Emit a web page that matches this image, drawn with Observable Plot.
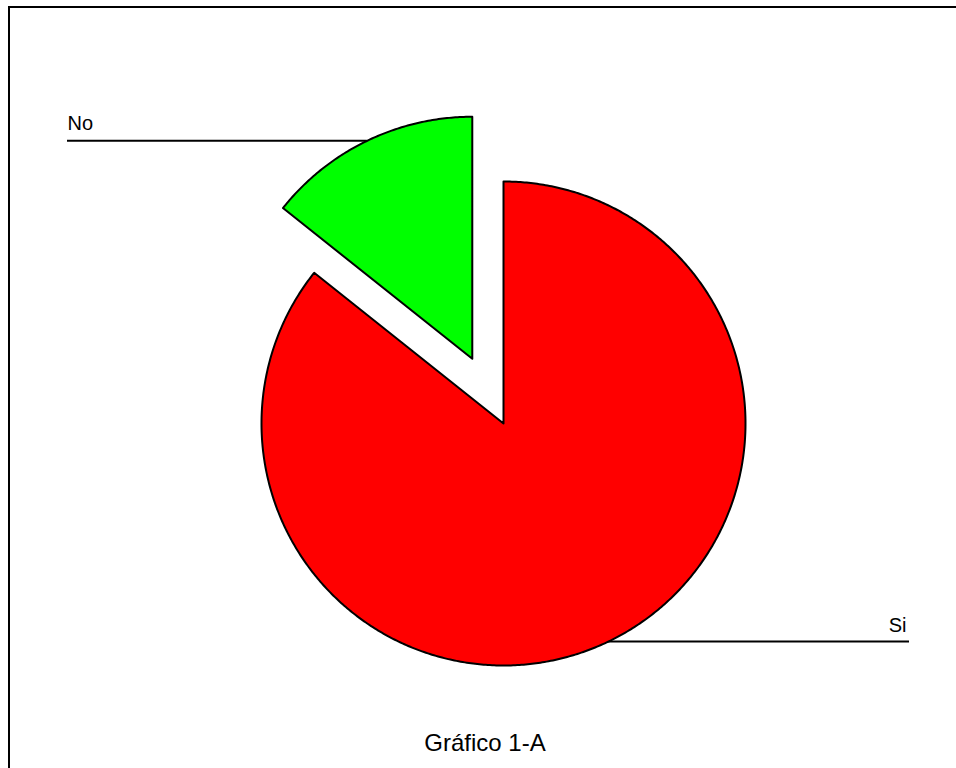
<!DOCTYPE html>
<html><head><meta charset="utf-8">
<script src="https://cdn.jsdelivr.net/npm/d3@7"></script>
<script src="https://cdn.jsdelivr.net/npm/@observablehq/plot@0.6"></script>
<style>
body{margin:0;background:#fff;font-family:"Liberation Sans",Arial,sans-serif;overflow:hidden;}
#frame{position:absolute;left:8px;top:6px;width:1200px;height:1000px;border-top:2px solid #000;border-left:2px solid #000;box-sizing:border-box;}
#chart{position:absolute;left:0;top:0;}
#caption{position:absolute;left:0;top:731px;width:970px;text-align:center;font-size:24px;line-height:24px;color:#000;}
</style></head><body>
<div id="frame"></div><div id="chart"></div><div id="caption"></div>
<script>
// ---- data ----
const categories = ["Si", "No"];
const values = [85.7, 14.3];
const colors = ["#ff0000", "#00ff00"];
const exploded = [false, true];
const captionText = "Gráfico 1-A";

// ---- layout ----
const W = 956, H = 720, CX = 503, CY = 423, R = 242, EXPLODE = 0.297;
const LEFT_END = (67 - CX) / R, RIGHT_END = (909 - CX) / R;

const slices = d3.pie().sort(null).value(d => d.value)(
  categories.map((c, i) => ({category: c, value: values[i], exploded: exploded[i]}))
);

const pts = [], leaders = [], labels = [];
slices.forEach(s => {
  const c = s.data.category;
  const mid = (s.startAngle + s.endAngle) / 2;
  const ox = s.data.exploded ? EXPLODE * Math.sin(mid) : 0;
  const oy = s.data.exploded ? EXPLODE * Math.cos(mid) : 0;
  pts.push({category: c, x: ox, y: oy});
  const n = Math.ceil((s.endAngle - s.startAngle) / (Math.PI / 360));
  for (let i = 0; i <= n; i++) {
    const a = s.startAngle + (s.endAngle - s.startAngle) * i / n;
    pts.push({category: c, x: ox + Math.sin(a), y: oy + Math.cos(a)});
  }
  pts.push({category: c, x: ox, y: oy});
  const ax = ox + Math.sin(mid), ay = oy + Math.cos(mid);
  const right = Math.sin(mid) > 0;
  const ex = right ? RIGHT_END : LEFT_END;
  leaders.push({category: c, x1: ax, x2: ex, y: ay});
  labels.push({category: c, x: ex, y: ay, right});
});

const plot = Plot.plot({
  width: W, height: H, margin: 0,
  style: {fontFamily: '"Liberation Sans", Arial, sans-serif', background: "transparent"},
  x: {domain: [(0 - CX) / R, (W - CX) / R], axis: null},
  y: {domain: [(CY - H) / R, CY / R], axis: null},
  color: {domain: categories, range: colors},
  marks: [
    Plot.ruleY(leaders, {y: "y", x1: "x1", x2: "x2", stroke: "#000", strokeWidth: 2}),
    Plot.line(pts, {x: "x", y: "y", z: "category", fill: "category", stroke: "#000", strokeWidth: 2, strokeLinejoin: "round"}),
    Plot.text(labels.filter(d => !d.right), {x: "x", y: "y", text: "category", textAnchor: "start", dy: -17, fontSize: 20, fill: "#000"}),
    Plot.text(labels.filter(d => d.right), {x: "x", y: "y", text: "category", textAnchor: "end", dx: -3, dy: -16, fontSize: 20, fill: "#000"})
  ]
});
document.getElementById("chart").appendChild(plot);
document.getElementById("caption").textContent = captionText;
</script>
</body></html>
